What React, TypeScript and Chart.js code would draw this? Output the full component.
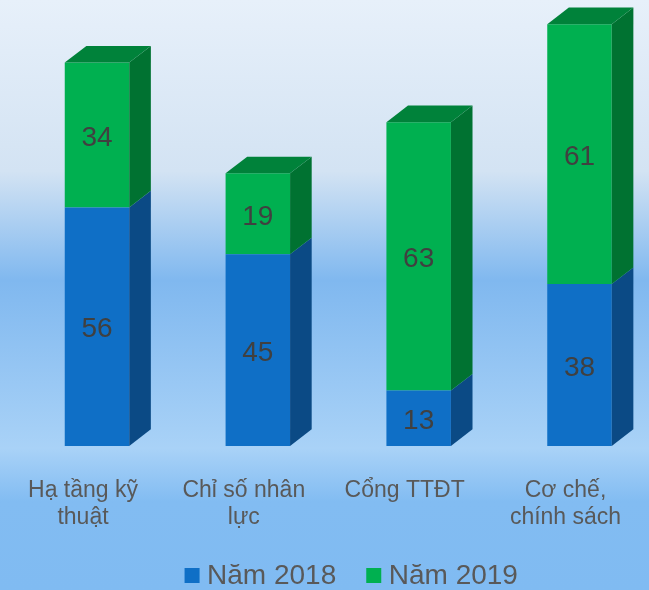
import React, { useEffect, useRef } from "react";
import { Chart, registerables } from "chart.js";

Chart.register(...registerables);

const categories: string[][] = [
  ["Hạ tầng kỹ", "thuật"],
  ["Chỉ số nhân", "lực"],
  ["Cổng TTĐT"],
  ["Cơ chế,", "chính sách"],
];
const series2018: number[] = [56, 45, 13, 38];
const series2019: number[] = [34, 19, 63, 61];
const seriesNames: string[] = ["Năm 2018", "Năm 2019"];

const FONT = "'Liberation Sans', Arial, sans-serif";

const frontColors = ["#0F6FC6", "#00B050"];
const sideColors = ["#0B4A85", "#007231"];
const topColors = ["#0C5AA0", "#00823A"];

const bar3dPlugin = {
  id: "bar3d",
  afterDatasetsDraw(chart: any) {
    const ctx: CanvasRenderingContext2D = chart.ctx;
    const nData = chart.data.labels.length;
    const nSets = chart.data.datasets.length;
    ctx.save();
    for (let i = 0; i < nData; i++) {
      for (let d = 0; d < nSets; d++) {
        const meta = chart.getDatasetMeta(d);
        const el: any = meta.data[i];
        if (!el) continue;
        const p = el.getProps(["x", "y", "base", "width"], true);
        const left = p.x - p.width / 2;
        const right = p.x + p.width / 2;
        const top = Math.min(p.y, p.base);
        const bottom = Math.max(p.y, p.base);
        const dx = p.width * 0.335;
        const dy = -p.width * 0.258;
        ctx.fillStyle = sideColors[d];
        ctx.beginPath();
        ctx.moveTo(right, top);
        ctx.lineTo(right + dx, top + dy);
        ctx.lineTo(right + dx, bottom + dy);
        ctx.lineTo(right, bottom);
        ctx.closePath();
        ctx.fill();
        if (d === nSets - 1) {
          ctx.fillStyle = topColors[d];
          ctx.beginPath();
          ctx.moveTo(left, top);
          ctx.lineTo(left + dx, top + dy);
          ctx.lineTo(right + dx, top + dy);
          ctx.lineTo(right, top);
          ctx.closePath();
          ctx.fill();
        }
      }
    }
    ctx.fillStyle = "#404040";
    ctx.font = `28px ${FONT}`;
    ctx.textAlign = "center";
    ctx.textBaseline = "middle";
    for (let d = 0; d < nSets; d++) {
      const meta = chart.getDatasetMeta(d);
      const values = chart.data.datasets[d].data;
      meta.data.forEach((el: any, i: number) => {
        const p = el.getProps(["x", "y", "base"], true);
        ctx.fillText(String(values[i]), p.x, (p.y + p.base) / 2 + 3);
      });
    }
    ctx.restore();
  },
  afterDraw(chart: any) {
    const ctx: CanvasRenderingContext2D = chart.ctx;
    ctx.save();
    ctx.font = `28px ${FONT}`;
    ctx.textBaseline = "alphabetic";
    ctx.textAlign = "left";
    const box = 15;
    const gap = 7.5;
    const itemGap = 30;
    const sets = chart.data.datasets;
    const widths = sets.map((s: any) => box + gap + ctx.measureText(s.label).width);
    const total = widths.reduce((a: number, b: number) => a + b, 0) + itemGap * (sets.length - 1);
    const center = (chart.chartArea.left + chart.chartArea.right) / 2 + 13;
    let x = center - total / 2;
    const baseline = chart.height - 6;
    sets.forEach((s: any, i: number) => {
      ctx.fillStyle = s.backgroundColor;
      ctx.fillRect(x, baseline - 16, box, box);
      ctx.fillStyle = "#595959";
      ctx.fillText(s.label, x + box + gap, baseline);
      x += widths[i] + itemGap;
    });
    ctx.restore();
  },
};

export default function App() {
  const canvasRef = useRef<HTMLCanvasElement>(null);

  useEffect(() => {
    if (!canvasRef.current) return;
    const chart = new Chart(canvasRef.current, {
      type: "bar",
      data: {
        labels: categories as any,
        datasets: [
          {
            label: seriesNames[0],
            data: series2018,
            backgroundColor: frontColors[0],
            borderWidth: 0,
            categoryPercentage: 1,
            barPercentage: 0.401,
            clip: false as any,
          },
          {
            label: seriesNames[1],
            data: series2019,
            backgroundColor: frontColors[1],
            borderWidth: 0,
            categoryPercentage: 1,
            barPercentage: 0.401,
            clip: false as any,
          },
        ],
      },
      options: {
        animation: false,
        responsive: false,
        maintainAspectRatio: false,
        layout: { padding: { left: 97, right: 69.5, top: 20, bottom: 0 } },
        plugins: {
          legend: { display: false },
          tooltip: { enabled: false },
        },
        scales: {
          x: {
            stacked: true,
            offset: false,
            grid: { display: false, drawTicks: false },
            border: { display: false },
            ticks: {
              color: "#595959",
              font: { family: FONT, size: 23, lineHeight: 1.17 },
              padding: 31,
              labelOffset: -14,
              maxRotation: 0,
              minRotation: 0,
              autoSkip: false,
            },
            afterFit(scale: any) {
              scale.height = 144;
              scale.paddingLeft = 0;
              scale.paddingRight = 0;
            },
          },
          y: {
            stacked: true,
            display: false,
            min: 0,
            max: 100,
          },
        },
      },
      plugins: [bar3dPlugin],
    });
    return () => chart.destroy();
  }, []);

  return (
    <div
      style={{
        position: "fixed",
        left: 0,
        top: 0,
        width: 649,
        height: 590,
        background:
          "linear-gradient(to bottom, #e7f0fa 0%, #d3e3f3 29%, #80b8ef 47.5%, #a9d2f7 76%, #82bcf2 85%, #80bbf2 100%)",
      }}
    >
      <canvas ref={canvasRef} width={649} height={590} style={{ display: "block" }} />
    </div>
  );
}
